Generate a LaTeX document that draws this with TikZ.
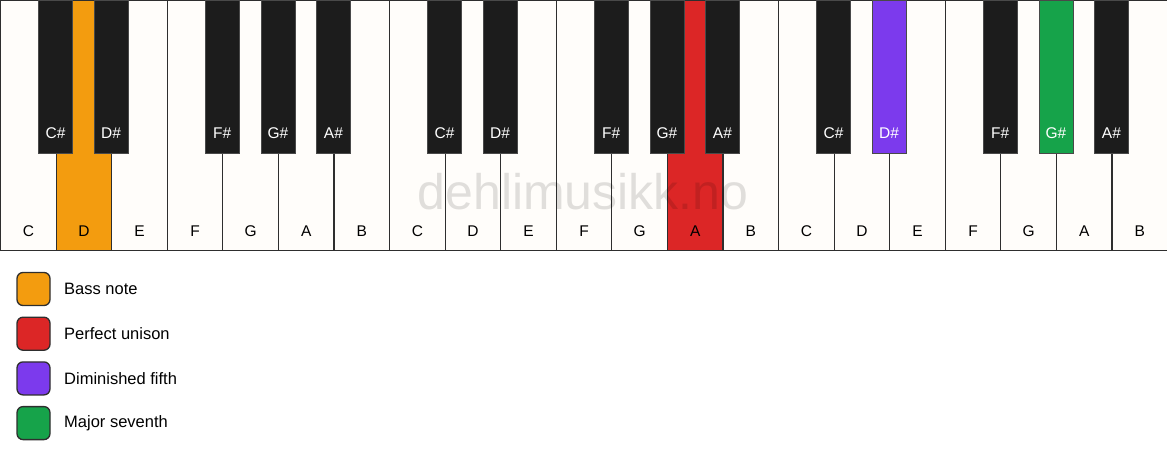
\documentclass[tikz,border=0pt]{standalone}
\usepackage{fontspec}
\setmainfont{Liberation Sans}
\usetikzlibrary{positioning}

\definecolor{keywhite}{HTML}{FFFDFA}
\definecolor{keyblack}{HTML}{1C1C1C}
\definecolor{keyline}{HTML}{2E2E2E}
\definecolor{bassnote}{HTML}{F39C0F}
\definecolor{unison}{HTML}{DC2626}
\definecolor{dimfifth}{HTML}{7C3AED}
\definecolor{majseventh}{HTML}{16A34A}

\begin{document}
\begin{tikzpicture}[
    x=1pt, y=-1pt,
    % White keys
    white key/.style={
        draw=keyline,
        fill=keywhite,
        line width=1.2pt,
        anchor=north west,
        inner sep=0pt,
        minimum width=55.571pt,
        minimum height=250pt
    },
    % Black keys
    black key/.style={
        draw=keyblack!80,
        fill=keyblack,
        line width=0.6pt,
        anchor=north,
        inner sep=0pt,
        minimum width=34pt,
        minimum height=153pt
    },
    % Key names
    white label/.style={
        font=\fontsize{15.5}{17}\selectfont,
        text=black
    },
    black label/.style={
        font=\fontsize{15.5}{17}\selectfont,
        text=white
    },
    % Legend
    swatch/.style={
        draw=keyline,
        line width=1.3pt,
        rounded corners=6pt,
        minimum size=33pt,
        inner sep=0pt
    },
    legend text/.style={
        font=\fontsize{16.5}{18}\selectfont,
        anchor=west
    }
]

\useasboundingbox (0,0) rectangle (1167,461);

% White keys
\foreach \n/\c [count=\i from 0] in {C/keywhite, D/bassnote, E/keywhite, F/keywhite,
    G/keywhite, A/keywhite, B/keywhite, C/keywhite, D/keywhite, E/keywhite,
    F/keywhite, G/keywhite, A/unison, B/keywhite, C/keywhite, D/keywhite,
    E/keywhite, F/keywhite, G/keywhite, A/keywhite, B/keywhite} {
    \node[white key, fill=\c] (w\i) at (\i*55.571,0) {};
    \node[white label] (wl\i) at ([yshift=20pt]w\i.south) {\n};
}

% Watermark
\node[font=\fontsize{50}{55}\selectfont, text=black, opacity=0.12] (mark) at (583,192) {dehlimusikk.no};

% Black keys
\foreach \n/\p/\c in {C/1/keyblack, D/2/keyblack, F/4/keyblack, G/5/keyblack, A/6/keyblack,
    C/8/keyblack, D/9/keyblack, F/11/keyblack, G/12/keyblack, A/13/keyblack,
    C/15/keyblack, D/16/dimfifth, F/18/keyblack, G/19/majseventh, A/20/keyblack} {
    \node[black key, fill=\c] (b\p) at (\p*55.571,0) {};
    \node[black label] (bl\p) at ([yshift=20pt]b\p.south) {\n\#};
}

% Legend
\node[swatch, fill=bassnote] (s1) at (33.5,289) {};
\node[swatch, fill=unison, below=10.4pt of s1] (s2) {};
\node[swatch, fill=dimfifth, below=10.4pt of s2] (s3) {};
\node[swatch, fill=majseventh, below=10.4pt of s3] (s4) {};

\node[legend text, right=10pt of s1] (t1) {Bass note};
\node[legend text, right=10pt of s2] (t2) {Perfect unison};
\node[legend text, right=10pt of s3] (t3) {Diminished fifth};
\node[legend text, right=10pt of s4] (t4) {Major seventh};

\end{tikzpicture}
\end{document}
